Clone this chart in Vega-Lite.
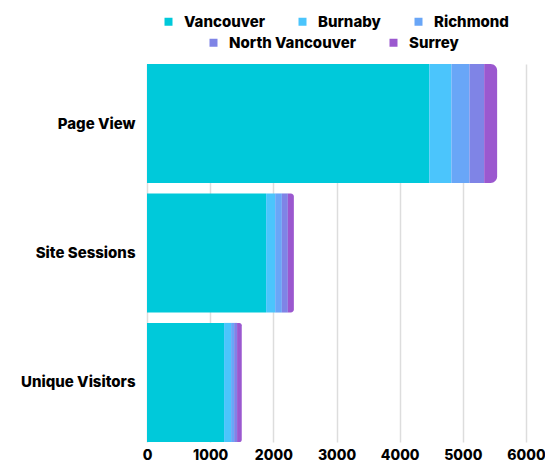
{
  "$schema": "https://vega.github.io/schema/vega-lite/v6.json",
  "width": 379,
  "height": 378,
  "autosize": {"type": "none"},
  "padding": {"left": 147, "top": 64, "right": 19, "bottom": 24},
  "config": {
    "view": {"stroke": null},
    "font": "Inter",
    "legend": {
      "title": null,
      "orient": "none",
      "direction": "horizontal",
      "columnPadding": 30,
      "symbolType": "square",
      "symbolSize": 64,
      "symbolStrokeWidth": 0,
      "labelFontSize": 15,
      "labelFontWeight": 800,
      "labelColor": "#000000",
      "labelOffset": 8
    }
  },
  "data": {
    "values": [
      {"metric": "Page View", "city": "Vancouver", "order": 1, "value": 4470},
      {"metric": "Page View", "city": "Burnaby", "order": 2, "value": 350},
      {"metric": "Page View", "city": "Richmond", "order": 3, "value": 285},
      {"metric": "Page View", "city": "North Vancouver", "order": 4, "value": 233},
      {"metric": "Page View", "city": "Surrey", "order": 5, "value": 205},
      {"metric": "Site Sessions", "city": "Vancouver", "order": 1, "value": 1886},
      {"metric": "Site Sessions", "city": "Burnaby", "order": 2, "value": 143},
      {"metric": "Site Sessions", "city": "Richmond", "order": 3, "value": 106},
      {"metric": "Site Sessions", "city": "North Vancouver", "order": 4, "value": 95},
      {"metric": "Site Sessions", "city": "Surrey", "order": 5, "value": 95},
      {"metric": "Unique Visitors", "city": "Vancouver", "order": 1, "value": 1220},
      {"metric": "Unique Visitors", "city": "Burnaby", "order": 2, "value": 111},
      {"metric": "Unique Visitors", "city": "Richmond", "order": 3, "value": 48},
      {"metric": "Unique Visitors", "city": "North Vancouver", "order": 4, "value": 47},
      {"metric": "Unique Visitors", "city": "Surrey", "order": 5, "value": 74}
    ]
  },
  "transform": [
    {"stack": "value", "groupby": ["metric"], "sort": [{"field": "order"}], "as": ["x0", "x1"]}
  ],
  "encoding": {
    "y": {
      "field": "metric",
      "type": "nominal",
      "sort": ["Page View", "Site Sessions", "Unique Visitors"],
      "scale": {"paddingInner": 0.08, "paddingOuter": 0},
      "axis": {
        "title": null,
        "domain": false,
        "ticks": false,
        "grid": false,
        "labelFontSize": 15,
        "labelFontWeight": 800,
        "labelColor": "#000000",
        "labelPadding": 12
      }
    },
    "x": {
      "field": "x0",
      "type": "quantitative",
      "scale": {"domain": [0, 6000], "nice": false},
      "axis": {
        "title": null,
        "values": [0, 1000, 2000, 3000, 4000, 5000, 6000],
        "format": "d",
        "labelFlush": false,
        "domain": false,
        "ticks": false,
        "grid": true,
        "gridColor": "#dddddd",
        "gridWidth": 1.5,
        "labelFontSize": 14,
        "labelFontWeight": 800,
        "labelColor": "#000000",
        "labelPadding": 6
      }
    },
    "x2": {"field": "x1"}
  },
  "layer": [
    {
      "transform": [{"filter": "datum.city !== 'Surrey'"}],
      "mark": {"type": "bar"},
      "encoding": {
        "color": {
          "field": "city",
          "type": "nominal",
          "scale": {
            "domain": ["Vancouver", "Burnaby", "Richmond", "North Vancouver"],
            "range": ["#00c9da", "#4bc5fc", "#69a6f7", "#7f84e6"]
          },
          "legend": {
            "values": ["Vancouver", "Burnaby", "Richmond"],
            "legendX": 14,
            "legendY": -50
          }
        }
      }
    },
    {
      "transform": [{"filter": "datum.city === 'Surrey'"}],
      "mark": {"type": "bar", "cornerRadiusTopRight": 7, "cornerRadiusBottomRight": 7},
      "encoding": {
        "color": {
          "field": "city",
          "type": "nominal",
          "scale": {
            "domain": ["North Vancouver", "Surrey"],
            "range": ["#7f84e6", "#9b58cf"]
          },
          "legend": {
            "values": ["North Vancouver", "Surrey"],
            "legendX": 59,
            "legendY": -29
          }
        }
      }
    }
  ],
  "resolve": {"scale": {"color": "independent"}, "legend": {"color": "independent"}}
}
